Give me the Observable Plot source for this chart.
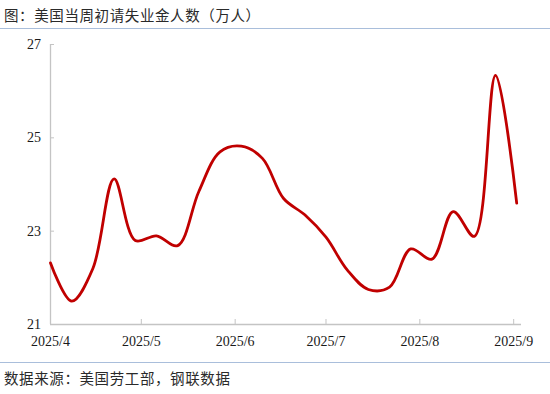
<!DOCTYPE html>
<html>
<head>
<meta charset="utf-8">
<script src="https://cdn.jsdelivr.net/npm/d3@7"></script>
<script src="https://cdn.jsdelivr.net/npm/@observablehq/plot@0.6"></script>
<style>
  html, body { margin: 0; padding: 0; background: #ffffff; }
  #wrap { position: relative; width: 550px; height: 394px; overflow: hidden; }
  .cjk { font-family: "Noto Sans CJK SC", "Noto Sans", sans-serif; font-size: 14.5px; color: #2a2a2a; position: absolute; left: 4px; white-space: nowrap; letter-spacing: 0.6px; }
  #title { top: 5px; line-height: 20px; }
  #caption { top: 368px; line-height: 20px; }
  .sep { position: absolute; left: 0; width: 550px; height: 1px; background: #a9bedb; }
  #chart { position: absolute; left: 0; top: 30px; }
</style>
</head>
<body>
<div id="wrap">
  <div id="title" class="cjk">图：美国当周初请失业金人数（万人）</div>
  <div class="sep" style="top:28px"></div>
  <div id="chart"></div>
  <div class="sep" style="top:362px"></div>
  <div id="caption" class="cjk">数据来源：美国劳工部，钢联数据</div>
</div>
<script>
// Weekly dates
const weeks = ["2025-04-01","2025-04-08","2025-04-15","2025-04-22","2025-04-29",
  "2025-05-06","2025-05-13","2025-05-20","2025-05-27","2025-06-03",
  "2025-06-10","2025-06-17","2025-06-24","2025-07-01","2025-07-08",
  "2025-07-15","2025-07-22","2025-07-29","2025-08-05","2025-08-12",
  "2025-08-19","2025-08-26","2025-09-02"];
// Initial jobless claims (10k persons)
const claims = [22.32, 21.5, 22.2, 24.12, 22.8, 22.9, 22.69, 23.85, 24.7, 24.82,
  24.56, 23.7, 23.35, 22.87, 22.17, 21.75, 21.8, 22.62, 22.4, 23.42,
  22.89, 26.34, 23.6];
const monthTicks = ["2025-04-01","2025-05-01","2025-06-01","2025-07-01","2025-08-01","2025-09-01"];
const yTicks = [21, 23, 25, 27];

const data = weeks.map((d, i) => ({date: new Date(d + "T00:00Z"), value: claims[i]}));
const xTicks = monthTicks.map(d => new Date(d + "T00:00Z"));
const xStart = new Date("2025-04-01T00:00Z");
const xEnd = new Date("2025-09-03T14:00Z");
const axisColor = "#c4c4c4";
const serif = "Liberation Serif, Times New Roman, serif";

const chart = Plot.plot({
  width: 550,
  height: 330,
  marginTop: 14,
  marginBottom: 36,
  marginLeft: 50,
  marginRight: 29,
  style: {background: "transparent", fontFamily: serif, fontSize: "14px", color: "#1a1a1a"},
  x: {type: "utc", domain: [xStart, xEnd]},
  y: {domain: [21, 27]},
  marks: [
    Plot.ruleX([xStart], {stroke: axisColor, strokeWidth: 1.3}),
    Plot.ruleY([21], {stroke: axisColor, strokeWidth: 1.3}),
    Plot.axisY({ticks: yTicks, tickSize: -4, tickPadding: 13.5, stroke: axisColor, label: null, tickFormat: d => String(d), fontSize: 14}),
    Plot.axisX({ticks: xTicks, tickSize: -5, tickPadding: 17, stroke: axisColor, label: null, tickFormat: d3.utcFormat("%Y/%-m"), fontSize: 14}),
    Plot.line(data, {x: "date", y: "value", stroke: "#c00000", strokeWidth: 2.8, curve: "catmull-rom"})
  ]
});
document.getElementById("chart").appendChild(chart);
</script>
</body>
</html>
